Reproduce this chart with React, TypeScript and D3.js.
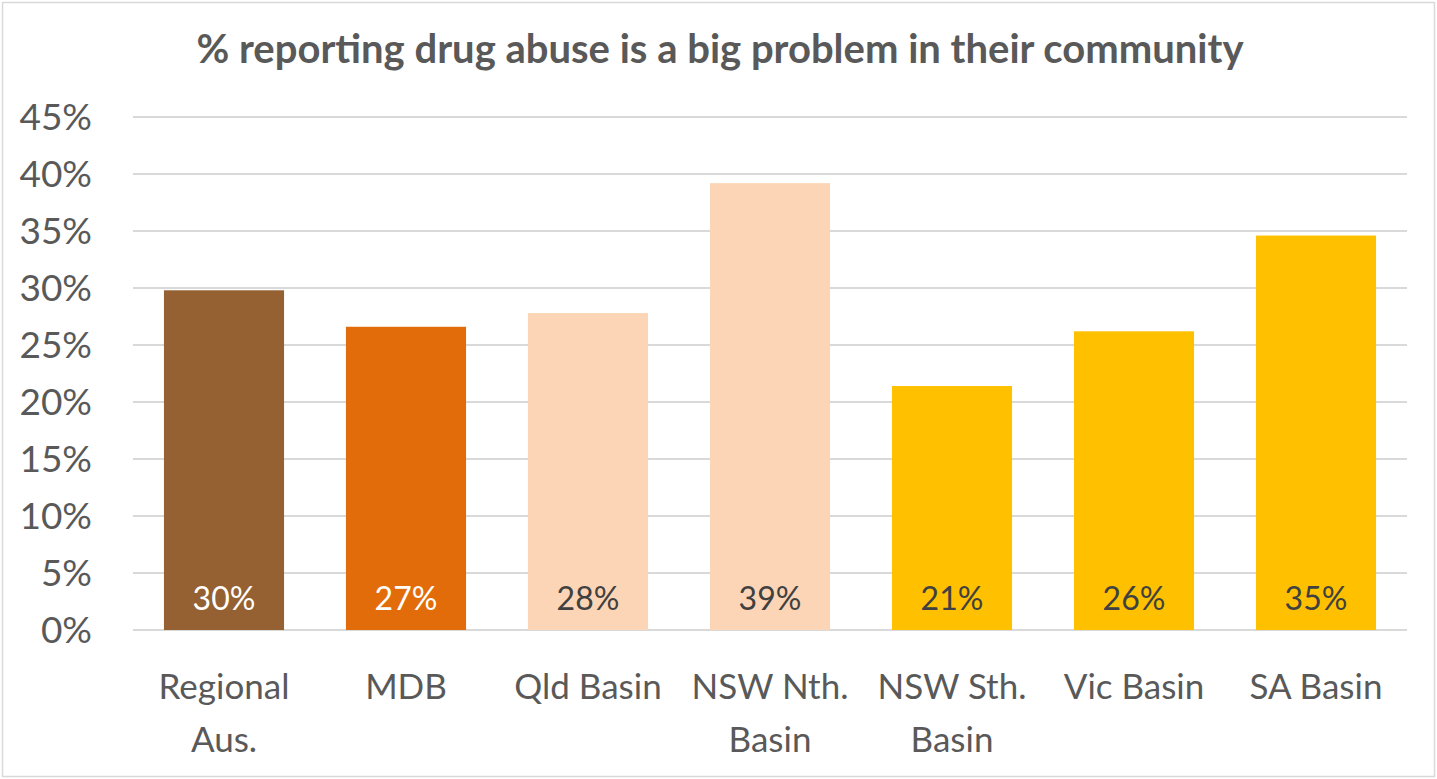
import React from "react";
import * as d3 from "d3";

const categories: string[][] = [
  ["Regional", "Aus."],
  ["MDB"],
  ["Qld Basin"],
  ["NSW Nth.", "Basin"],
  ["NSW Sth.", "Basin"],
  ["Vic Basin"],
  ["SA Basin"],
];
const values: number[] = [29.8, 26.6, 27.8, 39.2, 21.4, 26.2, 34.6];
const labels: string[] = ["30%", "27%", "28%", "39%", "21%", "26%", "35%"];
const barColors: string[] = ["#956132", "#E36C0A", "#FBD5B5", "#FBD5B5", "#FFC000", "#FFC000", "#FFC000"];
const labelColors: string[] = ["#FFFFFF", "#FFFFFF", "#404040", "#404040", "#404040", "#404040", "#404040"];
const yTicks: number[] = [0, 5, 10, 15, 20, 25, 30, 35, 40, 45];
const title = "% reporting drug abuse is a big problem in their community";

const W = 1437;
const H = 779;
const FONT = "Lato, 'Open Sans', sans-serif";

export default function App() {
  const x = d3
    .scaleBand<number>()
    .domain(d3.range(values.length))
    .range([133, 1407])
    .paddingInner(0.34)
    .paddingOuter(0.17);
  const y = d3.scaleLinear().domain([0, 45]).range([630, 117]);

  return (
    <svg
      width={W}
      height={H}
      style={{ position: "absolute", left: 0, top: 0, background: "#fff" }}
    >
      <rect x={2.5} y={2.5} width={W - 5} height={H - 5} fill="#fff" stroke="#d9d9d9" strokeWidth={1.5} />
      <text
        x={720}
        y={63}
        textAnchor="middle"
        fontFamily={FONT}
        fontWeight="bold"
        fontSize={40}
        fill="#595959"
      >
        {title}
      </text>
      {yTicks.map((t) => (
        <g key={t}>
          <line x1={133} x2={1407} y1={y(t)} y2={y(t)} stroke="#d9d9d9" strokeWidth={2} />
          <text
            x={92}
            y={y(t)}
            dy="0.36em"
            textAnchor="end"
            fontFamily={FONT}
            fontSize={37}
            fill="#595959"
          >
            {t}%
          </text>
        </g>
      ))}
      {values.map((v, i) => (
        <g key={i}>
          <rect
            x={x(i)}
            y={y(v)}
            width={x.bandwidth()}
            height={y(0) - y(v)}
            fill={barColors[i]}
          />
          <text
            x={(x(i) as number) + x.bandwidth() / 2}
            y={610}
            textAnchor="middle"
            fontFamily={FONT}
            fontSize={32}
            fill={labelColors[i]}
          >
            {labels[i]}
          </text>
          {categories[i].map((line, j) => (
            <text
              key={j}
              x={(x(i) as number) + x.bandwidth() / 2}
              y={699 + j * 53}
              textAnchor="middle"
              fontFamily={FONT}
              fontSize={35}
              fill="#595959"
            >
              {line}
            </text>
          ))}
        </g>
      ))}
    </svg>
  );
}
